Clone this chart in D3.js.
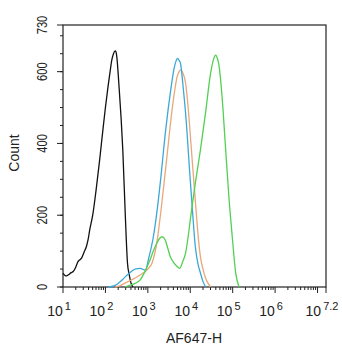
<!DOCTYPE html>
<html>
<head>
<meta charset="utf-8">
<script src="https://cdn.jsdelivr.net/npm/d3@7"></script>
<style>
  body { margin: 0; background: #fff; }
  text { font-family: "Liberation Sans", Arial, sans-serif; fill: #222; }
</style>
</head>
<body>
<div class="chart"></div>
<script>
// exponents (log10 of AF647-H) and counts
var blackExp   = [1.00, 1.04, 1.08, 1.13, 1.19, 1.24, 1.30, 1.35, 1.40, 1.44, 1.50, 1.55, 1.59, 1.63, 1.70, 1.78, 1.86, 1.94, 2.00, 2.06, 2.11, 2.15, 2.19, 2.23, 2.25, 2.27, 2.32, 2.37, 2.41, 2.47, 2.52, 2.56, 2.60, 2.65];
var blackCount = [38, 33, 31, 34, 40, 43, 55, 70, 76, 81, 98, 112, 131, 159, 200, 270, 350, 437, 500, 557, 600, 632, 650, 658, 655, 640, 560, 470, 381, 196, 67, 35, 12, 0];

var blueExp   = [2.06, 2.20, 2.30, 2.40, 2.50, 2.60, 2.70, 2.82, 2.94, 3.02, 3.13, 3.22, 3.30, 3.42, 3.54, 3.62, 3.66, 3.70, 3.73, 3.77, 3.83, 3.89, 4.00, 4.06, 4.12, 4.18, 4.24, 4.30, 4.36];
var blueCount = [0, 3, 10, 20, 32, 42, 50, 52, 47, 80, 140, 215, 298, 437, 549, 610, 628, 637, 633, 623, 560, 484, 298, 200, 112, 65, 39, 15, 1];

var orangeExp   = [2.23, 2.35, 2.45, 2.55, 2.65, 2.77, 2.89, 3.00, 3.10, 3.21, 3.33, 3.45, 3.57, 3.65, 3.69, 3.73, 3.77, 3.83, 3.89, 3.95, 4.01, 4.13, 4.18, 4.24, 4.30, 4.36, 4.42, 4.48];
var orangeCount = [0, 4, 10, 16, 22, 30, 39, 50, 67, 122, 234, 363, 493, 560, 586, 598, 605, 595, 568, 500, 409, 224, 150, 84, 50, 25, 10, 0];

var greenExp   = [2.46, 2.58, 2.70, 2.82, 2.94, 3.05, 3.13, 3.21, 3.28, 3.34, 3.41, 3.47, 3.53, 3.61, 3.69, 3.75, 3.82, 3.89, 3.95, 4.01, 4.12, 4.24, 4.36, 4.48, 4.55, 4.60, 4.63, 4.67, 4.75, 4.83, 4.91, 4.99, 5.07, 5.15];
var greenCount = [0, 5, 10, 20, 45, 75, 100, 122, 136, 140, 131, 108, 84, 68, 57, 52, 70, 95, 140, 196, 290, 382, 485, 596, 635, 646, 640, 623, 530, 391, 252, 140, 40, 0];

var yTicks = [0, 200, 400, 600, 730];
var xTickExp = [1, 2, 3, 4, 5, 6, 7.2];

var margin = {top: 25, bottom: 63, left: 63, right: 16};
var fullWidth = 342, fullHeight = 350;
var width = fullWidth - margin.left - margin.right;
var height = fullHeight - margin.top - margin.bottom;

var svg = d3.select(`.chart`)
    .append(`svg`)
    .attr(`width`, fullWidth)
    .attr(`height`, fullHeight)
    .append(`g`)
    .attr(`transform`, `translate(${margin.left},${margin.top})`);

var xScale = d3.scaleLog()
    .domain([10, Math.pow(10, 7.2)])
    .range([0, width]);

var yScale = d3.scaleLinear()
    .domain([0, 730])
    .range([height, 0]);

// frame
svg.append(`rect`)
    .attr(`x`, 0).attr(`y`, 0)
    .attr(`width`, width).attr(`height`, height)
    .style(`fill`, `none`)
    .style(`stroke`, `#222`)
    .style(`stroke-width`, 1.2);

// y axis
var yMinor = d3.range(0, 731, 50);
svg.selectAll(`.yminor`)
    .data(yMinor)
    .enter()
    .append(`line`)
    .attr(`x1`, -3).attr(`x2`, 0)
    .attr(`y1`, d => yScale(d)).attr(`y2`, d => yScale(d))
    .style(`stroke`, `#222`);
svg.selectAll(`.ymajor`)
    .data(yTicks)
    .enter()
    .append(`line`)
    .attr(`x1`, -6).attr(`x2`, 0)
    .attr(`y1`, d => yScale(d)).attr(`y2`, d => yScale(d))
    .style(`stroke`, `#222`);
svg.selectAll(`.ylabel`)
    .data(yTicks)
    .enter()
    .append(`text`)
    .attr(`transform`, d => `translate(-16, ${yScale(d)}) rotate(-90)`)
    .style(`text-anchor`, `middle`)
    .style(`font-size`, `14px`)
    .attr(`textLength`, d => String(d).length * 6.2)
    .attr(`lengthAdjust`, `spacingAndGlyphs`)
    .text(d => d);

// x axis
var xMinor = [];
for (var e = 1; e < 8; e++) {
    for (var k = 2; k <= 9; k++) {
        var v = k * Math.pow(10, e);
        if (v < Math.pow(10, 7.2)) xMinor.push(v);
    }
}
svg.selectAll(`.xminor`)
    .data(xMinor)
    .enter()
    .append(`line`)
    .attr(`x1`, d => xScale(d)).attr(`x2`, d => xScale(d))
    .attr(`y1`, height).attr(`y2`, height + 3)
    .style(`stroke`, `#222`);
svg.selectAll(`.xmajor`)
    .data(xTickExp.concat([7]))
    .enter()
    .append(`line`)
    .attr(`x1`, d => xScale(Math.pow(10, d))).attr(`x2`, d => xScale(Math.pow(10, d)))
    .attr(`y1`, height).attr(`y2`, height + 6)
    .style(`stroke`, `#222`);
var xl = svg.selectAll(`.xlabel`)
    .data(xTickExp)
    .enter()
    .append(`text`)
    .attr(`x`, d => xScale(Math.pow(10, d)) - 4)
    .attr(`y`, height + 29)
    .style(`text-anchor`, `middle`)
    .style(`font-size`, `14px`);
xl.append(`tspan`).text(`10`);
xl.append(`tspan`)
    .attr(`dy`, -6)
    .attr(`dx`, 2)
    .style(`font-size`, `11px`)
    .text(d => d);

// titles
svg.append(`text`)
    .attr(`x`, 131)
    .attr(`y`, height + 56)
    .style(`text-anchor`, `middle`)
    .style(`font-size`, `14px`)
    .text(`AF647-H`);
svg.append(`text`)
    .attr(`transform`, `translate(-44, ${height / 2 - 3}) rotate(-90)`)
    .style(`text-anchor`, `middle`)
    .style(`font-size`, `14px`)
    .text(`Count`);

// histograms
var line = d3.line()
    .x(d => xScale(Math.pow(10, d[0])))
    .y(d => yScale(d[1]))
    .curve(d3.curveMonotoneX);

var series = [
    {exp: blackExp, count: blackCount, color: `#111111`},
    {exp: orangeExp, count: orangeCount, color: `#e9a77a`},
    {exp: blueExp, count: blueCount, color: `#3ca8d8`},
    {exp: greenExp, count: greenCount, color: `#52d052`}
];

svg.selectAll(`.curve`)
    .data(series)
    .enter()
    .append(`path`)
    .attr(`d`, s => line(s.exp.map((e, i) => [e, s.count[i]])))
    .style(`fill`, `none`)
    .style(`stroke`, s => s.color)
    .style(`stroke-width`, 1.3);
</script>
</body>
</html>
